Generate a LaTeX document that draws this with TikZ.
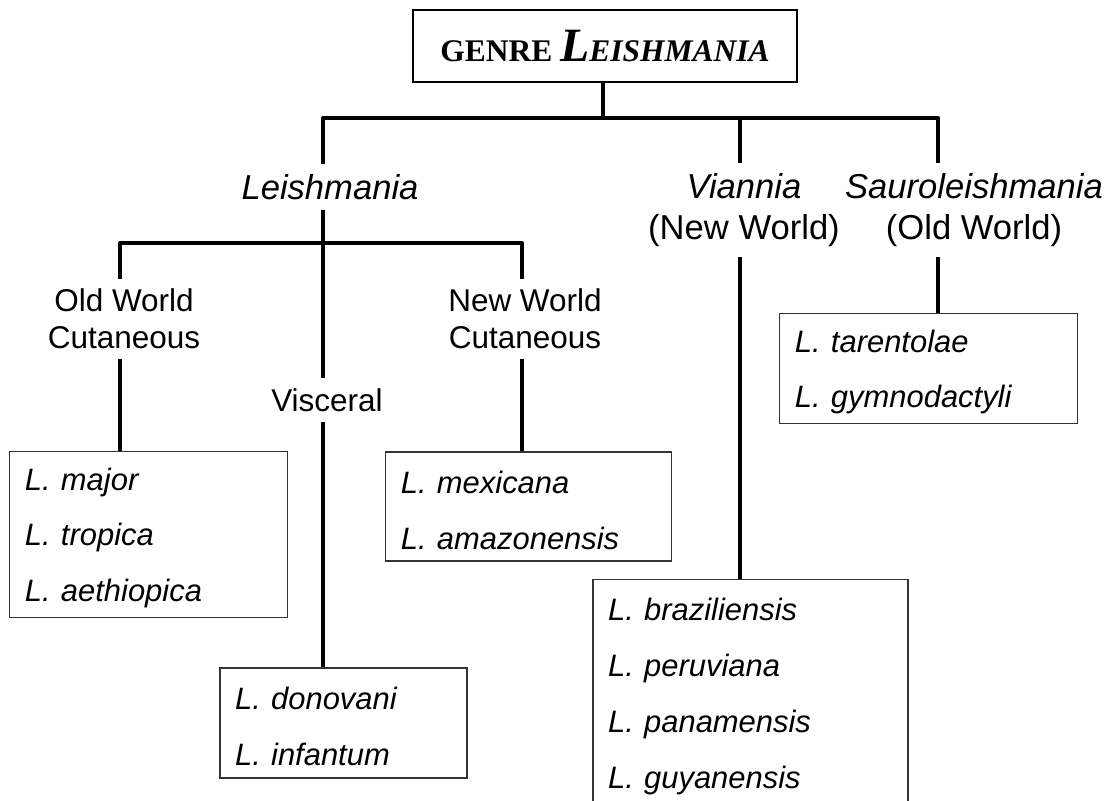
\documentclass[tikz,border=0pt]{standalone}
\usepackage{fontspec}
\setmainfont{Liberation Sans}
\newfontfamily\titlefont{Liberation Serif}

\newcommand{\topstrut}{\rule{0pt}{0.95em}}

\tikzset{
	branch/.style={line width=1.4pt, line join=round},
	subg/.style={font=\fontsize{12.3}{14.9}\selectfont, align=center, inner sep=0.12cm},
	grp/.style={font=\fontsize{11.2}{13}\selectfont, align=center, inner sep=0.12cm},
	titlebox/.style={draw, line width=0.8pt, minimum width=4.8cm, minimum height=0.9cm},
	spbox/.style={draw=black!80, line width=0.5pt, align=left, inner xsep=0.19cm,
		font=\fontsize{11}{19.9}\selectfont\itshape}
}

\begin{document}
\begin{tikzpicture}[x=0.0125cm, y=-0.0125cm]

	\useasboundingbox (0,0) rectangle (1112,800);

	% Titre
	\node[titlebox] (title) at (605,46)
		{\titlefont\bfseries\fontsize{11.2}{13}\selectfont GENRE
		{\itshape\fontsize{17}{19}\selectfont L}{\itshape EISHMANIA}};

	% Sous-genres
	\node[subg] (leish) at (330,187) {\itshape Leishmania};
	\node[subg] (vian) at (744,210) {\itshape Viannia\\(New World)};
	\node[subg] (sauro) at (974,210) {\itshape Sauroleishmania\\(Old World)};

	% Groupes
	\node[grp] (ow) at (124,319) {Old World\\Cutaneous};
	\node[grp] (visc) at (327,400) {Visceral};
	\node[grp] (nw) at (525,319) {New World\\Cutaneous};

	% Especes
	\node[spbox, text width=3.09cm, minimum height=2.06cm] (majbox) at (148.5,534.5)
		{\topstrut L. major\\L. tropica\\L. aethiopica};
	\node[spbox, text width=3.19cm, minimum height=1.36cm] (mexbox) at (528.5,506.5)
		{\topstrut L. mexicana\\L. amazonensis};
	\node[spbox, text width=2.71cm, minimum height=1.375cm] (donbox) at (343.5,723)
		{\topstrut L. donovani\\L. infantum};
	\node[spbox, text width=3.56cm, minimum height=2.83cm] (brabox) at (750.5,693)
		{\topstrut L. braziliensis\\L. peruviana\\L. panamensis\\L. guyanensis};
	\node[spbox, text width=3.34cm, minimum height=1.34cm] (saubox) at (928.5,368.5)
		{\topstrut L. tarentolae\\L. gymnodactyli};

	% Points de branchement
	\coordinate (tL) at (323,118);
	\coordinate (tV) at (740,118);
	\coordinate (tS) at (938,118);
	\coordinate (bOW) at (120,243);
	\coordinate (bNW) at (522,243);

	% Liaisons superieures
	\draw[branch] (title.south -| 603,0) -- (603,118);
	\draw[branch] (tL |- leish.north) -- (tL) -- (tS) -- (tS |- sauro.north);
	\draw[branch] (tV) -- (tV |- vian.north);

	% Liaisons de Leishmania
	\draw[branch] (tL |- leish.south) -- (tL |- visc.north);
	\draw[branch] (bOW |- ow.north) -- (bOW) -- (bNW) -- (bNW |- nw.north);
	\draw[branch] (bOW |- ow.south) -- (bOW |- majbox.north);
	\draw[branch] (tL |- visc.south) -- (tL |- donbox.north);
	\draw[branch] (bNW |- nw.south) -- (bNW |- mexbox.north);

	% Liaisons vers les boites
	\draw[branch] (tV |- vian.south) -- (tV |- brabox.north);
	\draw[branch] (tS |- sauro.south) -- (tS |- saubox.north);

\end{tikzpicture}
\end{document}
